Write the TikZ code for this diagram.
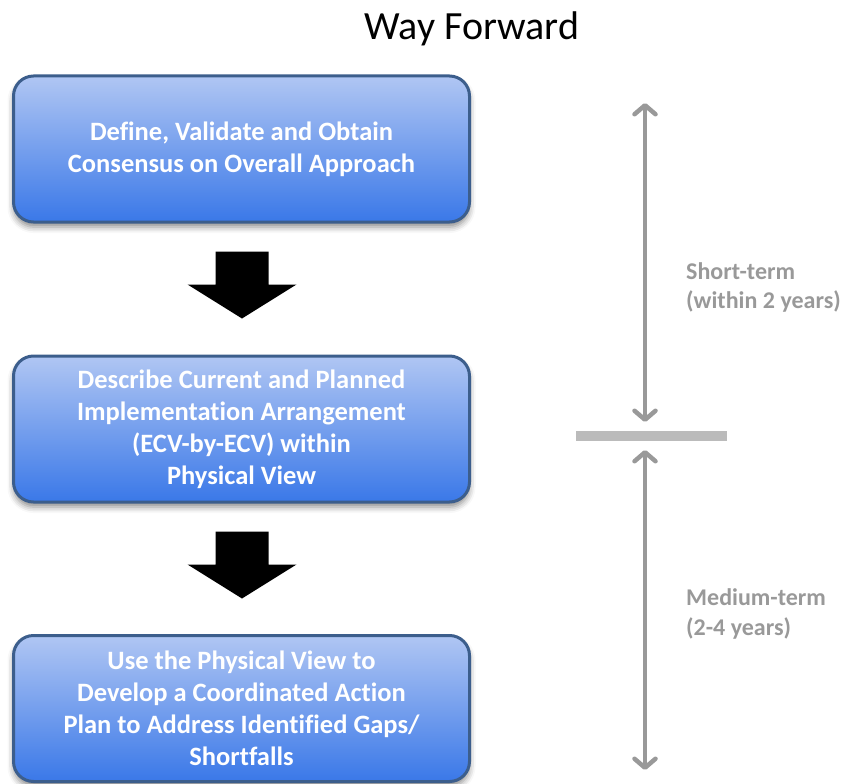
\documentclass[tikz,border=0pt]{standalone}
\usepackage{fontspec}
\setmainfont{Carlito}[Ligatures={NoCommon,NoRare}]
\usepackage{tikz}
\usetikzlibrary{arrows.meta, calc, shadows.blur}
\definecolor{boxtop}{RGB}{176,198,243}
\definecolor{boxbot}{RGB}{58,120,232}
\definecolor{boxline}{RGB}{60,94,140}
\definecolor{spangray}{RGB}{153,153,153}
\definecolor{bargray}{RGB}{187,187,187}
\tikzstyle{block} = [rectangle, draw=boxline, line width=3pt, rounded corners=20pt, minimum width=456pt, minimum height=146pt, top color=boxtop, bottom color=boxbot, text=white, align=center, font=\fontsize{26.5}{32}\selectfont\bfseries, blur shadow={shadow xshift=0pt, shadow yshift=-5pt, shadow blur radius=6pt, shadow opacity=45}]
\tikzstyle{term} = [anchor=west, align=left, text=spangray, font=\fontsize{24}{29.5}\selectfont\bfseries, inner sep=0]
\tikzstyle{span} = [draw=spangray, line width=4.5pt, line cap=round, {Straight Barb[length=9pt, width=21pt, line cap=round, line join=round]}-{Straight Barb[length=9pt, width=21pt, line cap=round, line join=round]}]
\tikzstyle{flow} = [fill=black]

\begin{document}
\begin{tikzpicture}[x=1pt, y=-1pt]
\useasboundingbox (0,0) rectangle (857,784);

\node [font=\fontsize{40}{44}\selectfont] (title) at (472,29) {Way Forward};

\node [block] (D) at (241.5,149) {Define, Validate and Obtain\\Consensus on Overall Approach};
\node [block] (P) at (241.5,429) {Describe Current and Planned\\Implementation Arrangement\\(ECV-by-ECV) within\\Physical View};
\node [block] (U) at (241.5,708.5) {Use the Physical View to\\Develop a Coordinated Action\\Plan to Address Identified Gaps/\\Shortfalls};

% block arrows between the steps
\foreach \a/\b in {D/P, P/U} {
  \fill [flow] ($(\a.south)+(0.5,28)$) ++(-26.5,0) -- ++(53,0) -- ++(0,33) -- ++(28,0)
    -- ++(-54.5,34) -- ++(-54.5,-34) -- ++(28,0) -- cycle;
}

% time line
\coordinate (t0) at (645,103);
\coordinate (t2) at (645,770);
\node [fill=bargray, minimum width=151pt, minimum height=10pt, inner sep=0] (bar) at (651.5,436) {};
\coordinate (t1a) at (645,422);
\coordinate (t1b) at (645,450);

\path [span] (t0) -- (t1a);
\path [span] (t1b) -- (t2);

\node [term] (short) at (686,287.5) {Short-term\\(within 2 years)};
\node [term] (medium) at (686,614) {Medium-term\\(2-4 years)};

\end{tikzpicture}
\end{document}
